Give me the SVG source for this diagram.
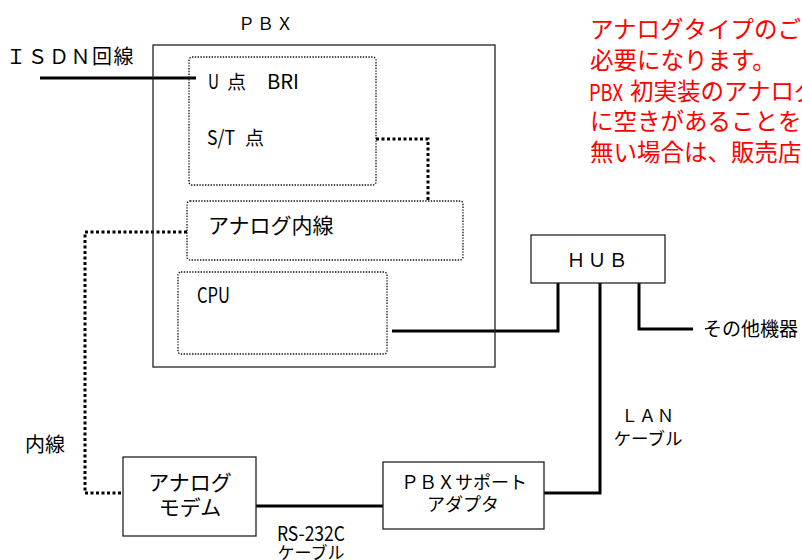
<svg xmlns="http://www.w3.org/2000/svg" width="802" height="560" viewBox="0 0 802 560">
<style>
text{font-family:'Noto Sans CJK JP','Noto Sans',sans-serif;fill:#000}
.box{fill:#fff;stroke:#222;stroke-width:1.3}
.inner{fill:none;stroke:#111;stroke-width:1.3;stroke-dasharray:1.4 1.4}
.solid{fill:none;stroke:#000;stroke-width:3}
.dot{fill:none;stroke:#000;stroke-width:3;stroke-dasharray:3 2.5}
.red{fill:#ff0000;font-size:23.5px}
</style>
<rect width="802" height="560" fill="#fff"/>
<g id="connectors">
<polyline class="solid" points="40,78 196,78"/>
<polyline class="dot" points="376,139 428,139 428,201"/>
<polyline class="dot" points="187,232 85,232 85,493 123,493"/>
<polyline class="solid" points="392,331 558,331 558,283"/>
<polyline class="solid" points="639,283 639,329 693,329"/>
<polyline class="solid" points="544,493 600,493 600,283"/>
<polyline class="solid" points="256,506 383,506"/>
</g>
<g id="pbx">
<rect x="153" y="45" width="342" height="322" fill="none" stroke="#222" stroke-width="1.3"/>
<text x="266.5" y="30" font-size="17" text-anchor="middle" letter-spacing="2">ＰＢＸ</text>
</g>
<g id="isdn-label">
<text x="6" y="64" font-size="20" letter-spacing="1.5">ＩＳＤＮ回線</text>
</g>
<g id="bri">
<rect class="inner" x="189" y="57" width="187" height="128" rx="3"/>
<text x="208" y="89" font-size="20" textLength="11" lengthAdjust="spacingAndGlyphs">U</text>
<text x="227" y="89" font-size="19">点</text>
<text x="267" y="89" font-size="20" textLength="32" lengthAdjust="spacingAndGlyphs">BRI</text>
<text x="207" y="145" font-size="20" textLength="28" lengthAdjust="spacingAndGlyphs">S/T</text>
<text x="245" y="145" font-size="19">点</text>
</g>
<g id="analog-ext">
<rect class="inner" x="187" y="201" width="276" height="59" rx="3"/>
<text x="208" y="233" font-size="21">アナログ内線</text>
</g>
<g id="cpu">
<rect class="inner" x="178" y="272" width="209" height="82" rx="3"/>
<text x="197" y="303" font-size="21" textLength="33" lengthAdjust="spacingAndGlyphs">CPU</text>
</g>
<g id="hub">
<rect class="box" x="531" y="235" width="134" height="48"/>
<text x="598" y="267" font-size="19" text-anchor="middle" letter-spacing="2">ＨＵＢ</text>
</g>
<g id="other">
<text x="703" y="336" font-size="19">その他機器</text>
</g>
<g id="lan-label">
<text x="648" y="422" font-size="17" text-anchor="middle" letter-spacing="1">ＬＡＮ</text>
<text x="648" y="445" font-size="17.5" text-anchor="middle">ケーブル</text>
</g>
<g id="naisen-label">
<text x="25" y="452" font-size="20">内線</text>
</g>
<g id="modem">
<rect class="box" x="123" y="457" width="133" height="79"/>
<text x="190" y="490" font-size="21" text-anchor="middle">アナログ</text>
<text x="190" y="515" font-size="21" text-anchor="middle">モデム</text>
</g>
<g id="adapter">
<rect class="box" x="383" y="462" width="161" height="67"/>
<text x="464" y="489" font-size="18" text-anchor="middle">ＰＢＸサポート</text>
<text x="463" y="511" font-size="18" text-anchor="middle">アダプタ</text>
</g>
<g id="rs232c-label">
<text x="277" y="541" font-size="20" textLength="68" lengthAdjust="spacingAndGlyphs">RS-232C</text>
<text x="311" y="559" font-size="17" text-anchor="middle">ケーブル</text>
</g>
<g id="note">
<text class="red" x="590" y="38">アナログタイプのご</text>
<text class="red" x="590" y="69">必要になります。</text>
<text class="red" x="589" y="101" font-size="26" textLength="34" lengthAdjust="spacingAndGlyphs">PBX</text>
<text class="red" x="630" y="100">初実装のアナログ</text>
<text class="red" x="590" y="130">に空きがあることを</text>
<text class="red" x="590" y="161">無い場合は、販売店</text>
</g>
</svg>
